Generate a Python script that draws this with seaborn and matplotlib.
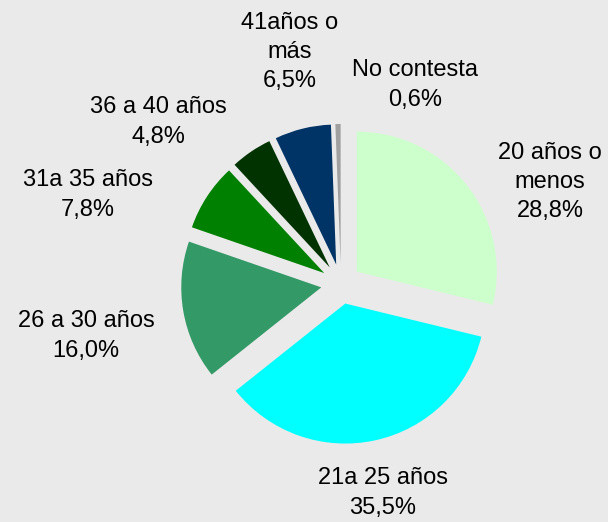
import matplotlib
matplotlib.use("Agg")
import matplotlib.pyplot as plt
import seaborn as sns

categories = ["20 años o\nmenos", "21a 25 años", "26 a 30 años", "31a 35 años",
              "36 a 40 años", "41años o\nmás", "No contesta"]
values = [28.8, 35.5, 16.0, 7.8, 4.8, 6.5, 0.6]
colors = ["#ccffcc", "#00ffff", "#339966", "#008000", "#003300", "#003366", "#a0a0a0"]

# label centres in pixels (layout only)
label_px = [(550, 182), (383, 493), (86, 336), (88, 195), (158, 122), (290, 52), (415, 85)]

W, H = 608, 522
CX, CY, R = 341, 284, 140
BG = "#eaeaea"


def px_to_data(x, y):
    return (x - CX) / R, (CY - y) / R


def main():
    sns.set_style("white")
    plt.rcParams["font.family"] = ["Liberation Sans", "DejaVu Sans"]

    fig = plt.figure(figsize=(W / 100, H / 100), dpi=100, facecolor=BG)
    ax = fig.add_axes([0, 0, 1, 1])
    ax.set_facecolor(BG)

    ax.pie(values, colors=colors, startangle=90, counterclock=False,
           explode=[0.143] * len(values), radius=1,
           wedgeprops=dict(linewidth=0))

    for cat, v, (x, y) in zip(categories, values, label_px):
        txt = f"{cat}\n{v:.1f}%".replace(".", ",")
        dx, dy = px_to_data(x, y)
        ax.text(dx, dy, txt, ha="center", va="center", fontsize=17,
                color="black", linespacing=1.42)

    ax.set_xlim(-CX / R, (W - CX) / R)
    ax.set_ylim(-(H - CY) / R, CY / R)
    ax.set_aspect("equal")
    ax.axis("off")

    fig.savefig("out.png", dpi=100, facecolor=BG)


if __name__ == "__main__":
    main()
